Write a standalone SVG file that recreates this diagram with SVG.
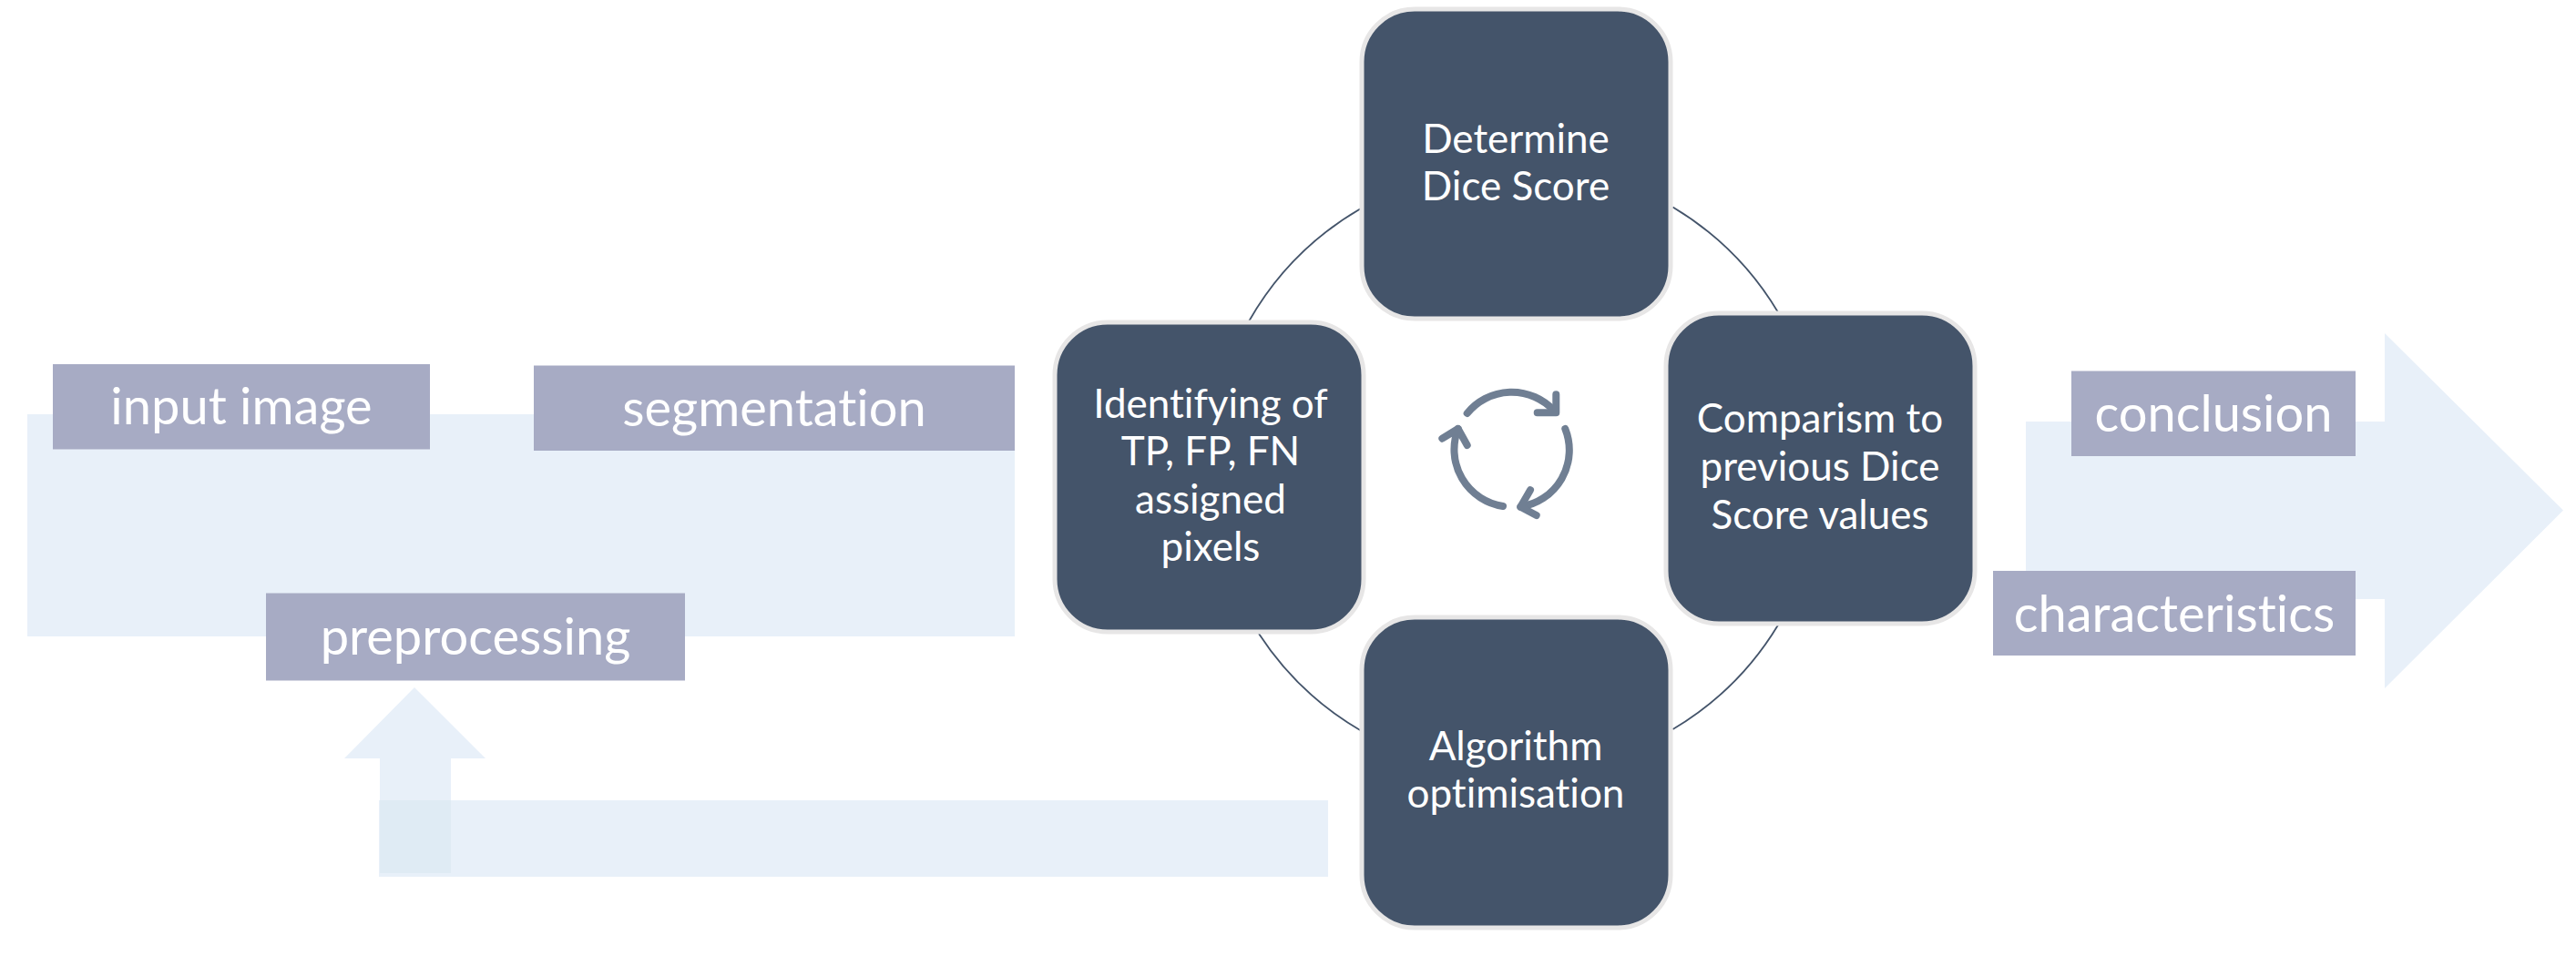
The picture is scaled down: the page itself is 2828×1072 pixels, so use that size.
<svg xmlns="http://www.w3.org/2000/svg" width="2828" height="1072" viewBox="0 0 2828 1072">
<style>
.band{fill:#e8f0f9}
.lab{fill:#a7abc4}
.node{fill:#44546a;stroke:#e7e6e6;stroke-width:5}
.arc{fill:none;stroke:#44546a;stroke-width:1.8}
.ico{fill:none;stroke:#707f93;stroke-width:8;stroke-linecap:round;stroke-linejoin:round}
text{font-family:"Lato","Carlito","Liberation Sans",sans-serif;fill:#fff;text-anchor:middle;font-variant-ligatures:none}
.t{font-size:44px}
.l{font-size:56px}
</style>
<rect width="2828" height="1072" fill="#fff"/>
<g id="band-input"><rect class="band" x="30" y="455" width="1084" height="244"/></g>
<g id="band-feedback">
<rect class="band" x="416" y="879" width="1042" height="84"/>
<path class="band" d="M455 755L533 833H495V959H417V833H378Z"/>
<rect x="417" y="879" width="78" height="80" fill="#dfebf4"/>
</g>
<g id="band-output"><path class="band" d="M2224 463H2618V366L2814 560.5L2618 756V658H2224Z"/></g>
<g id="connectors">
<path class="arc" d="M1494 229A334 334 0 0 0 1371 353"/>
<path class="arc" d="M1836.5 227.5A334 334 0 0 1 1952 343"/>
<path class="arc" d="M1952 686.5A334 334 0 0 1 1836.5 801"/>
<path class="arc" d="M1382 696A334 334 0 0 0 1494 802.5"/>
</g>
<g id="cycle-icon">
<path class="ico" d="M1610.7 454A63 63 0 0 1 1705.7 450.7"/>
<path class="ico" d="M1708.3 433.3V453.3H1687.7"/>
<path class="ico" d="M1718.3 471A63 63 0 0 1 1669.3 556.7"/>
<path class="ico" d="M1680 538.3L1669.3 556.7L1686.7 566"/>
<path class="ico" d="M1650 556A63 63 0 0 1 1600.7 471"/>
<path class="ico" d="M1583.3 481.7L1600.7 471L1610.7 489"/>
</g>
<g id="node-dice"><rect class="node" x="1495" y="10" width="339" height="340" rx="58"/>
<text class="t" x="1664" y="168">Determine</text><text class="t" x="1664" y="220">Dice Score</text></g>
<g id="node-compare"><rect class="node" x="1829" y="344" width="339" height="341" rx="58"/>
<text class="t" x="1998" y="475">Comparism to</text><text class="t" x="1998" y="528">previous Dice</text><text class="t" x="1998" y="581">Score values</text></g>
<g id="node-optimise"><rect class="node" x="1495" y="678" width="339" height="341" rx="58"/>
<text class="t" x="1664" y="835">Algorithm</text><text class="t" x="1664" y="887">optimisation</text></g>
<g id="node-identify"><rect class="node" x="1158" y="354" width="339" height="340" rx="58"/>
<text class="t" x="1329" y="459">Identifying of</text><text class="t" x="1329" y="511">TP, FP, FN</text><text class="t" x="1329" y="564">assigned</text><text class="t" x="1329" y="616">pixels</text></g>
<g id="label-input"><rect class="lab" x="58" y="400" width="414" height="93.5"/><text class="l" x="265" y="466">input image</text></g>
<g id="label-segmentation"><rect class="lab" x="586" y="401.5" width="528" height="93.5"/><text class="l" x="850" y="468">segmentation</text></g>
<g id="label-preprocessing"><rect class="lab" x="292" y="651.5" width="460" height="96"/><text class="l" x="522" y="719">preprocessing</text></g>
<g id="label-conclusion"><rect class="lab" x="2274" y="407.5" width="312" height="93.5"/><text class="l" x="2430" y="474">conclusion</text></g>
<g id="label-characteristics"><rect class="lab" x="2188" y="627" width="398" height="93"/><text class="l" x="2387" y="694">characteristics</text></g>
</svg>
